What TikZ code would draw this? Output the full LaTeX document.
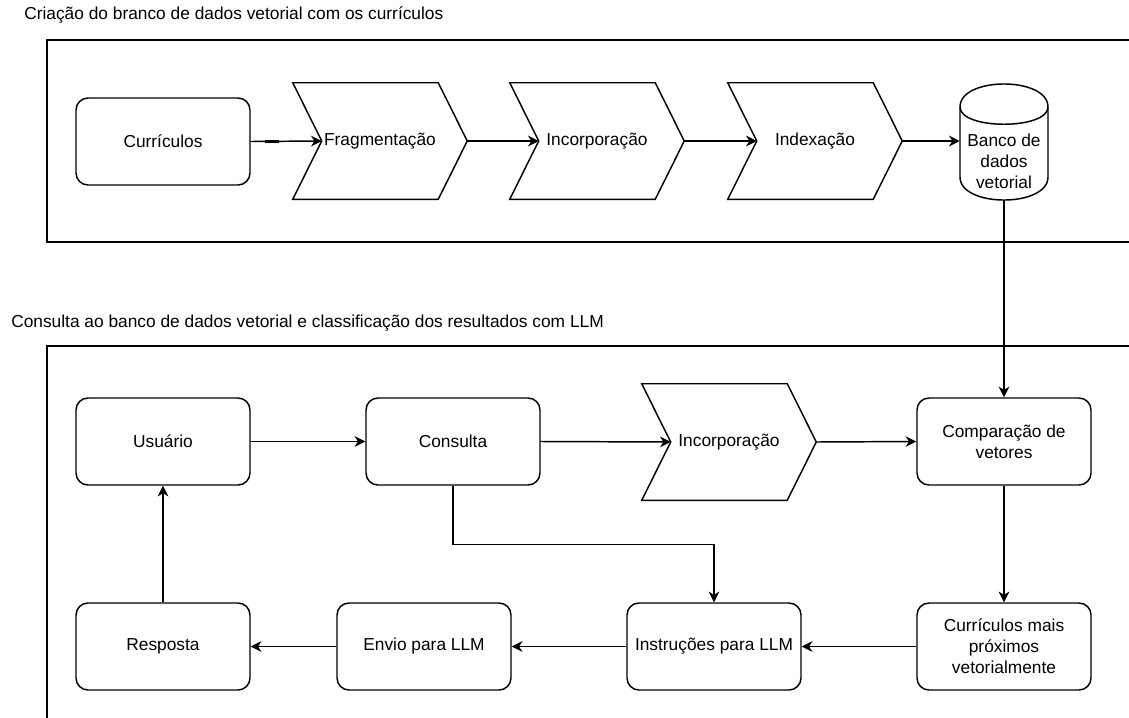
\documentclass[tikz,border=0pt]{standalone}
\usepackage{fontspec}
\setmainfont{Liberation Sans}
\usetikzlibrary{arrows.meta}

\begin{document}
\begin{tikzpicture}[x=0.75pt, y=-0.75pt,
  every node/.style={font=\fontsize{13}{15.7}\selectfont, align=center},
  box/.style={draw, line width=1.1pt, rounded corners=9pt, minimum width=130.5pt, minimum height=65.25pt, inner sep=0pt},
  chev/.style={minimum width=130.5pt, minimum height=87pt, inner sep=0pt},
  flow/.style={line width=1.1pt, -{Stealth[length=8pt, width=8pt, inset=2.5pt]}}]
\path [use as bounding box, clip] (0,0) rectangle (1129,718);

% frames and titles
\draw [line width=1.1pt] (47,40) rectangle (1170,242);
\draw [line width=1.1pt] (47,346) rectangle (1170,770);
\node [anchor=west, inner sep=0pt] (title1) at (24,15) {Criação do branco de dados vetorial com os currículos};
\node [anchor=west, inner sep=0pt] (title2) at (11,323) {Consulta ao banco de dados vetorial e classificação dos resultados com LLM};

% top row
\node [box] (cv) at (163,141.5) {Currículos};
\node [chev] (frag) at (380,141) {Fragmentação};
\node [chev] (inc) at (597,141) {Incorporação};
\node [chev] (idx) at (815,141) {Indexação};
\node [minimum width=66pt, minimum height=87pt, inner sep=0pt] (db) at (1004,142) {};
\node (dbtext) at (1004,161) {Banco de\\dados\\vetorial};
\draw [line width=1.1pt] (960,107) .. controls (960,76.3) and (1048,76.3) .. (1048,107) -- (1048,177)
  .. controls (1048,207.7) and (960,207.7) .. (960,177) -- cycle;
\draw [line width=1.1pt] (960,107) .. controls (960,130) and (1048,130) .. (1048,107);

% bottom rows
\node [box] (usu) at (163,441.5) {Usuário};
\node [box] (cons) at (453,441.5) {Consulta};
\node [chev] (inc2) at (729,442) {Incorporação};
\node [box] (comp) at (1004,441.5) {Comparação de\\vetores};
\node [box] (resp) at (163,646.5) {Resposta};
\node [box] (envio) at (424,646.5) {Envio para LLM};
\node [box] (instr) at (714,646.5) {Instruções para LLM};
\node [box] (curm) at (1004,646.5) {Currículos mais\\próximos\\vetorialmente};

\foreach \n in {frag,inc,idx,inc2}
  \draw [line width=1.1pt] (\n.north west) -- ([xshift=-21.75pt]\n.north east) -- (\n.east)
    -- ([xshift=-21.75pt]\n.south east) -- (\n.south west) -- ([xshift=21.75pt]\n.west) -- cycle;

% connectors
\draw [flow] (cv.east) -- ([xshift=21.75pt]frag.west);
\draw [flow] (frag.east) -- ([xshift=21.75pt]inc.west);
\draw [flow] (inc.east) -- ([xshift=21.75pt]idx.west);
\foreach \n in {cv,frag,inc}
  \draw [line width=1.6pt] ([xshift=10.5pt]\n.east) -- ++(14,0);
\draw [flow] (idx.east) -- (idx.east -| db.west);
\draw [flow] (db.south) -- (comp.north);
\draw [flow] (usu.east) -- (cons.west);
\draw [flow] (cons.east) -- ([xshift=21.75pt]inc2.west);
\draw [flow] (inc2.east) -- (comp.west);
\draw [flow] (comp.south) -- (curm.north);
\draw [flow] (curm.west) -- (instr.east);
\draw [flow] (instr.west) -- (envio.east);
\draw [flow] (envio.west) -- (resp.east);
\draw [flow] (resp.north) -- (usu.south);
\draw [flow] (cons.south) -- ++(0,59) -| (instr.north);
\end{tikzpicture}
\end{document}
